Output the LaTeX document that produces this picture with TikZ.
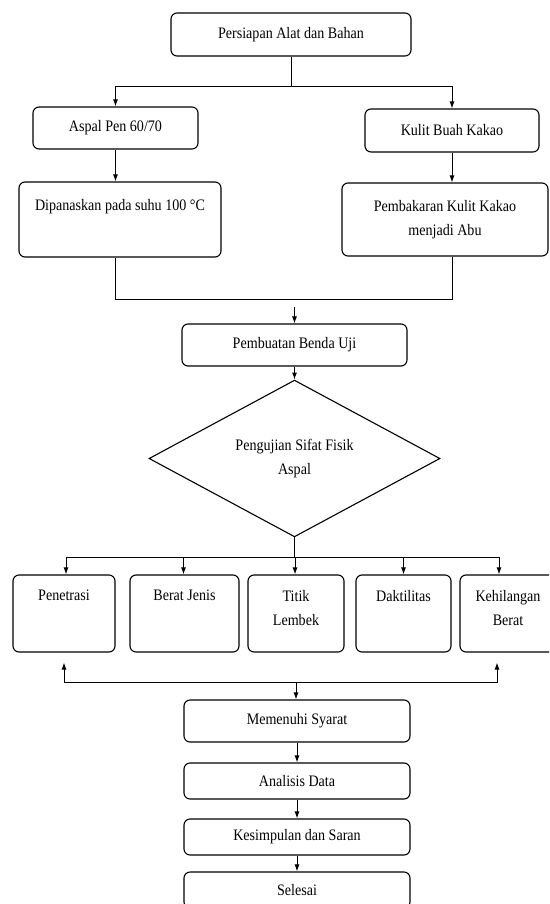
\documentclass[tikz,border=0pt]{standalone}
\usepackage{fontspec}
\setmainfont{Liberation Serif}[FakeStretch=0.88]
\usetikzlibrary{positioning,shapes.geometric,arrows.meta}

\begin{document}
\begin{tikzpicture}[x=1pt, y=-1pt, line width=1pt, >={Latex[length=7pt,width=5pt]},
    box/.style={draw, rounded corners=6pt, line width=1.1pt, inner sep=0pt, align=center},
    txt/.style={inner sep=0pt, align=center},
    every node/.append style={font=\fontsize{16}{24}\selectfont}]

    \clip (0,0) rectangle (549,904);

    % bahan
    \node[box, minimum width=240pt, minimum height=43pt] (alat)  at (291,34.5)   {Persiapan Alat dan Bahan};
    \node[box, minimum width=165pt, minimum height=42pt] (aspal) at (115.5,128)  {Aspal Pen 60/70};
    \node[box, minimum width=174pt, minimum height=43pt] (kulit) at (452,130.5)  {Kulit Buah Kakao};
    \node[box, minimum width=202pt, minimum height=75pt] (panas) at (120,219.5)  {};
    \node[txt, below=17pt of panas.north] (tpanas) {Dipanaskan pada suhu 100 °C};
    \node[box, minimum width=206pt, minimum height=73pt] (abu)   at (445,219.5)  {};
    \node[txt, below=17pt of abu.north] (tabu) {Pembakaran Kulit Kakao\\menjadi Abu};

    \coordinate (split) at (291,87);
    \draw (alat) -- (split);
    \draw[->] (split) -| (aspal.north);
    \draw[->] (split) -| (kulit.north);
    \draw[->] (aspal) -- (aspal.south |- panas.north);
    \draw[->] (kulit) -- (kulit.south |- abu.north);

    % benda uji
    \node[box, minimum width=225pt, minimum height=42pt] (uji) at (294.5,345) {Pembuatan Benda Uji};
    \node[draw, diamond, line width=1.1pt, minimum width=291pt, minimum height=133pt,
          inner sep=0pt, align=center] (fisik) at (294.5,458.5) {Pengujian Sifat Fisik\\Aspal};

    \coordinate (join) at (294.5,299);
    \draw (panas.south -| aspal.south) |- (join);
    \draw (abu.south -| kulit.south) |- (join);
    \draw[->] ([yshift=-8pt]join) -- (uji);
    \draw[->] (uji) -- (fisik);

    % pengujian
    \coordinate (fork)  at (294.5,557);
    \coordinate (merge) at (296,682);
    \draw (fisik.south) -- (fork);
    \foreach \nm/\x/\w/\dx/\txt in {pen/64/102/2/Penetrasi, jenis/184.5/109/-1/Berat Jenis,
        titik/296/96/-1/Titik\\Lembek, dak/403.5/95/0/Daktilitas, keh/508/96/-9/Kehilangan\\Berat}{
      \node[box, minimum width=\w pt, minimum height=77pt] (\nm) at (\x,613.5) {};
      \node[txt, below=15pt of \nm.north] (t\nm) {\txt};
      \draw[->] (fork) -| ([xshift=\dx pt]\nm.north);
    }
    \draw[->] (merge) -| ([yshift=-10pt]pen.south);
    \draw[->] (merge) -| ([xshift=-11pt,yshift=-10pt]keh.south);

    % hasil
    \node[box, minimum width=226pt, minimum height=42pt] (syarat)   at (297,721) {Memenuhi Syarat};
    \node[box, minimum width=226pt, minimum height=36pt] (analisis) at (297,781) {Analisis Data};
    \node[box, minimum width=226pt, minimum height=36pt] (saran)    at (297,837) {Kesimpulan dan Saran};
    \node[box, minimum width=226pt, minimum height=36pt] (selesai)  at (297,890) {Selesai};

    \draw[->] (merge) -- (merge |- syarat.north);
    \draw[->] (syarat) -- (analisis);
    \draw[->] (analisis) -- (saran);
    \draw[->] (saran) -- (selesai);

\end{tikzpicture}
\end{document}
